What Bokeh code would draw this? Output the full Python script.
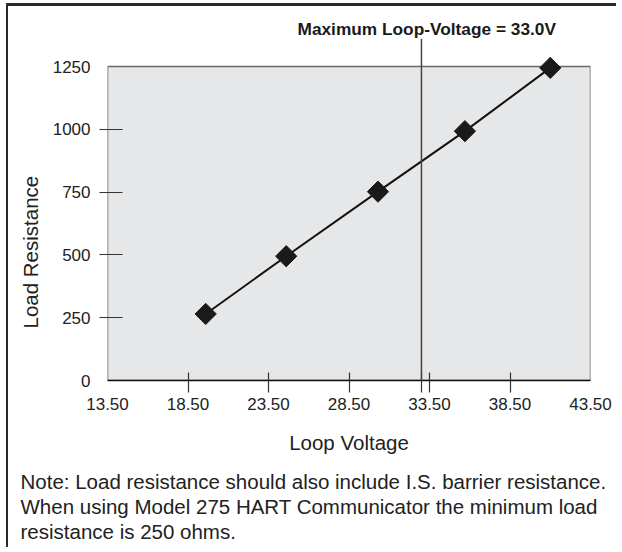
import math
from bokeh.plotting import figure
from bokeh.models import (Range1d, FixedTicker, NumeralTickFormatter, Title,
                          BoxAnnotation, Span)
from bokeh.embed import file_html
from bokeh.resources import INLINE

# ---- data ----
voltage = [19.6, 24.6, 30.3, 35.7, 41.0]
resistance = [265, 495, 752, 993, 1245]
max_loop_voltage = 33.0
x_min, x_max = 13.5, 43.5
r_min, r_max = 0, 1250
x_ticks = [13.5, 18.5, 23.5, 28.5, 33.5, 38.5, 43.5]
x_tick_marks = [18.5, 23.5, 28.5, 33.0, 33.5, 38.5]
y_ticks = [0, 250, 500, 750, 1000, 1250]
y_tick_marks = [250, 500, 750, 1000]
title_text = "Maximum Loop-Voltage = 33.0V"
x_label = "Loop Voltage"
y_label = "Load Resistance"
note_lines = [
    "Note: Load resistance should also include I.S. barrier resistance.",
    "When using Model 275 HART Communicator the minimum load",
    "resistance is 250 ohms.",
]

FONT = "Liberation Sans"
TXT = "#222222"

p = figure(width=610, height=544,
           x_range=Range1d(x_min, x_max), y_range=Range1d(r_min, 1362),
           output_backend="svg", toolbar_location=None,
           min_border_left=99, min_border_right=28,
           min_border_top=32, min_border_bottom=170)
p.styles = {"margin-left": "6px", "margin-top": "3px",
            "border-left": "2px solid #2a2a2a", "border-top": "3px solid #2a2a2a"}
p.background_fill_color = "white"
p.border_fill_color = "white"
p.outline_line_color = None
p.xgrid.visible = False
p.ygrid.visible = False

# grey plotting box
p.add_layout(BoxAnnotation(left=x_min, right=x_max, bottom=r_min, top=r_max,
                           fill_color="#e6e7e8", fill_alpha=1.0,
                           line_color="#6a6a6a", line_width=1.5, line_alpha=1.0,
                           level="underlay"))

xa = p.xaxis[0]
xa.ticker = FixedTicker(ticks=x_ticks, minor_ticks=x_tick_marks)
xa.formatter = NumeralTickFormatter(format="0.00")
xa.major_tick_out = 0
xa.major_tick_in = 0
xa.minor_tick_out = 12
xa.minor_tick_in = 8
xa.minor_tick_line_color = "#333333"
xa.minor_tick_line_width = 1.2
xa.axis_line_color = "#111111"
xa.axis_line_width = 1.5
xa.major_label_standoff = 5
xa.major_label_text_font = FONT
xa.major_label_text_font_size = "17px"
xa.major_label_text_color = TXT
xa.axis_label = x_label
xa.axis_label_text_font = FONT
xa.axis_label_text_font_size = "20.5px"
xa.axis_label_text_font_style = "normal"
xa.axis_label_text_color = TXT
xa.axis_label_standoff = 18

ya = p.yaxis[0]
ya.ticker = FixedTicker(ticks=y_ticks, minor_ticks=y_tick_marks)
ya.formatter = NumeralTickFormatter(format="0")
ya.major_tick_out = 0
ya.major_tick_in = 0
ya.minor_tick_out = 8
ya.minor_tick_in = 15
ya.minor_tick_line_color = "#333333"
ya.minor_tick_line_width = 1.2
ya.axis_line_color = None
ya.major_label_standoff = 9
ya.major_label_text_font = FONT
ya.major_label_text_font_size = "17px"
ya.major_label_text_color = TXT

# vertical max-voltage line
p.add_layout(Span(location=max_loop_voltage, dimension="height",
                  line_color="#444444", line_width=1.5))

p.line(voltage, resistance, line_color="#111111", line_width=2)
p.scatter(voltage, resistance, marker="square", angle=math.pi / 4, size=15,
          fill_color="#1a1a1a", line_color="#1a1a1a")

p.add_layout(Title(text=title_text, align="left", offset=190, standoff=0,
                   text_font=FONT, text_font_style="bold",
                   text_font_size="17.3px", text_color="#1a1a1a"), "above")

p.add_layout(Title(text=y_label, align="left", offset=52, standoff=15,
                   text_font=FONT, text_font_style="normal",
                   text_font_size="20.5px", text_color=TXT), "left")

# small spacer between the axis title and the note
p.add_layout(Title(text=" ", standoff=8, text_font_size="1px"), "below")
for line in note_lines:
    p.add_layout(Title(text=line, align="left", offset=-87, standoff=0,
                       text_font=FONT, text_font_style="normal",
                       text_font_size="20.5px", text_color=TXT), "below")

open("out.html", "w").write(file_html(p, INLINE))
